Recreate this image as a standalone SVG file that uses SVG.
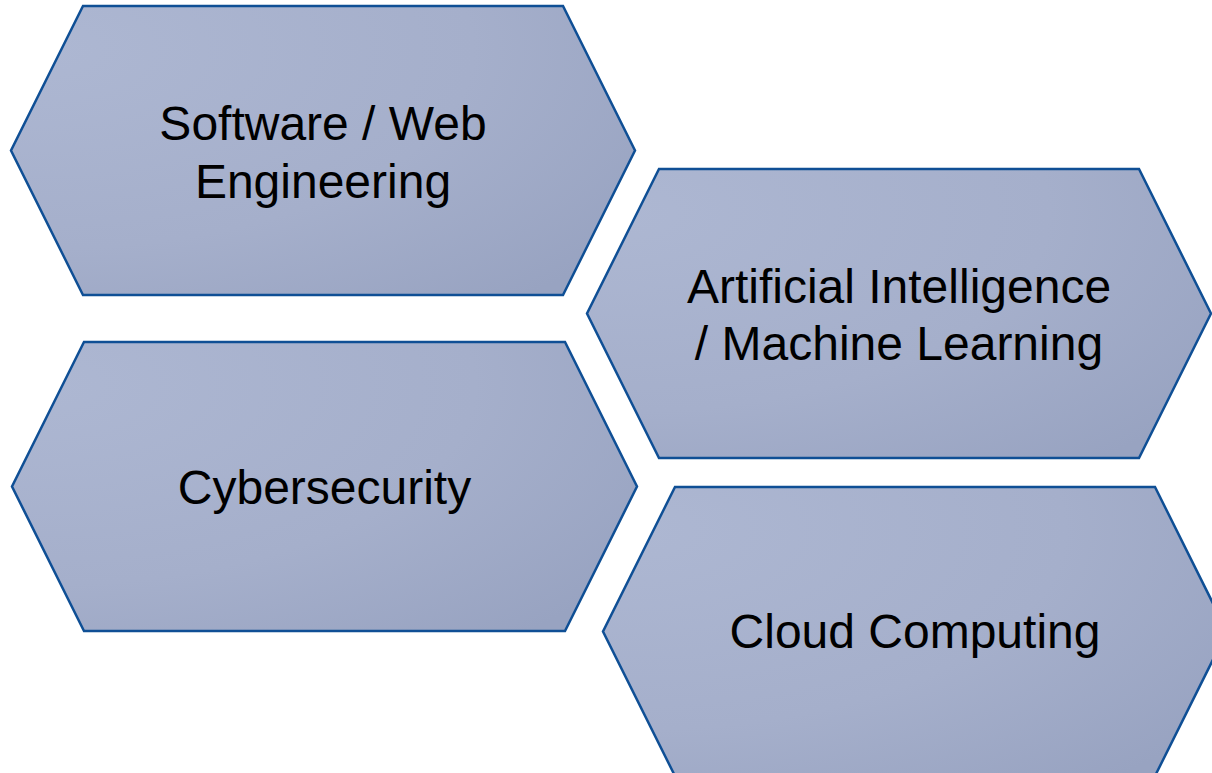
<svg xmlns="http://www.w3.org/2000/svg" width="1212" height="773" viewBox="0 0 1212 773">
  <defs>
    <!-- shared hexagon fill: light at the upper left, slightly deeper towards the lower right -->
    <radialGradient id="hexFill" gradientUnits="objectBoundingBox" cx="0.05" cy="0.15" r="1.15" fx="0.05" fy="0.15">
      <stop offset="0" stop-color="#adb7d2"/>
      <stop offset="0.6" stop-color="#a5afcb"/>
      <stop offset="1" stop-color="#98a3c1"/>
    </radialGradient>
  </defs>
  <style>
    .hex { fill: url(#hexFill); stroke: #0f4f95; stroke-width: 2.5; stroke-linejoin: miter; }
    .label { font-family: "Liberation Sans", Arial, sans-serif; font-size: 48px; fill: #000; text-anchor: middle; }
  </style>
  <rect width="1212" height="773" fill="#ffffff"/>
  <g id="software-web">
    <polygon class="hex" points="83,6 563,6 635,150.5 563,295 83,295 11,150.5"/>
    <text class="label" x="323" y="140">Software / Web</text>
    <text class="label" x="323" y="198">Engineering</text>
  </g>
  <g id="ai-ml">
    <polygon class="hex" points="659,169 1139,169 1211,313.5 1139,458 659,458 587,313.5"/>
    <text class="label" x="899" y="303">Artificial Intelligence</text>
    <text class="label" x="899" y="360">/ Machine Learning</text>
  </g>
  <g id="cybersecurity">
    <polygon class="hex" points="84,342 565,342 637,486.5 565,631 84,631 12,486.5"/>
    <text class="label" x="324.5" y="504">Cybersecurity</text>
  </g>
  <g id="cloud-computing">
    <polygon class="hex" points="675,487 1155,487 1227,631.5 1155,776 675,776 603,631.5"/>
    <text class="label" x="915" y="648">Cloud Computing</text>
  </g>
  <g id="connectors"/>
</svg>
